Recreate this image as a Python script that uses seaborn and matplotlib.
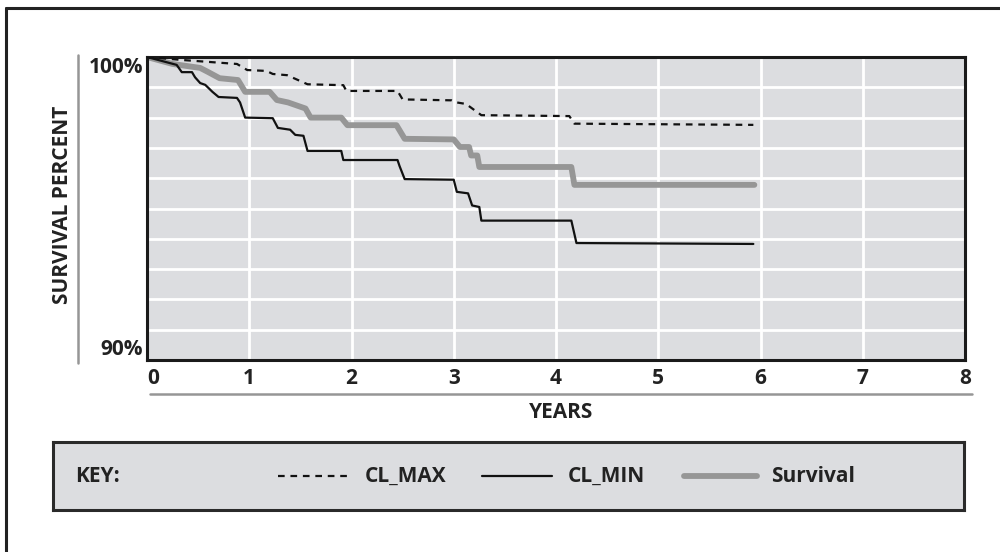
import numpy as np
import pandas as pd
import matplotlib
matplotlib.use('Agg')
import matplotlib.pyplot as plt
from matplotlib.lines import Line2D
import seaborn as sns

# survival curve (years, percent)
surv_years = [0, 0.25, 0.52, 0.60, 0.71, 0.89, 0.96, 1.20, 1.27, 1.38, 1.55, 1.60, 1.90, 1.96,
              2.44, 2.52, 3.00, 3.06, 3.15, 3.17, 3.23, 3.25, 4.15, 4.18, 5.94]
surv_pct = [100, 99.77, 99.64, 99.50, 99.30, 99.24, 98.85, 98.85, 98.58, 98.50, 98.30, 98.00, 98.00, 97.75,
            97.75, 97.30, 97.28, 97.03, 97.03, 96.75, 96.75, 96.37, 96.37, 95.78, 95.78]

# lower confidence limit
min_years = [0, 0.29, 0.34, 0.44, 0.47, 0.52, 0.57, 0.64, 0.70, 0.88, 0.91, 0.96, 1.23, 1.28, 1.40,
             1.45, 1.53, 1.57, 1.90, 1.92, 2.45, 2.47, 2.52, 3.00, 3.03, 3.14, 3.18, 3.25, 3.27,
             4.15, 4.20, 5.93]
min_pct = [100, 99.74, 99.50, 99.50, 99.33, 99.14, 99.08, 98.85, 98.68, 98.65, 98.50, 98.00, 97.98, 97.66, 97.60,
           97.43, 97.40, 96.90, 96.90, 96.60, 96.60, 96.40, 95.97, 95.95, 95.55, 95.50, 95.10, 95.05, 94.60,
           94.60, 93.86, 93.83]

# upper confidence limit
max_years = [0, 0.35, 0.88, 0.98, 1.17, 1.23, 1.37, 1.57, 1.92, 1.95, 2.45, 2.50, 2.98, 3.03,
             3.12, 3.27, 4.13, 4.18, 5.93]
max_pct = [100, 99.90, 99.77, 99.57, 99.54, 99.44, 99.40, 99.10, 99.07, 98.88, 98.88, 98.60, 98.57, 98.50,
           98.45, 98.08, 98.05, 97.80, 97.76]

x_ticks = [0, 1, 2, 3, 4, 5, 6, 7, 8]
y_ticks = [90, 91, 92, 93, 94, 95, 96, 97, 98, 99, 100]
y_labels = ['90%', '', '', '', '', '', '', '', '', '', '100%']
key_labels = ['CL_MAX', 'CL_MIN', 'Survival']

W, H = 1000, 552
BG = '#dcdde0'
DARK = '#222222'
GRAY = '#969696'

sns.set_theme(style='white')
plt.rcParams['font.family'] = ['Open Sans', 'DejaVu Sans']
plt.rcParams['font.weight'] = 'bold'

fig = plt.figure(figsize=(10, 5.52), dpi=100)

def fx(px):
    return px / W

def fy(py):
    return 1 - py / H

# outer frame (top and left edges only visible)
fig.add_artist(Line2D([fx(6), 1.0], [fy(8), fy(8)], transform=fig.transFigure, color=DARK, lw=2.2))
fig.add_artist(Line2D([fx(6), fx(6)], [fy(8), 0.0], transform=fig.transFigure, color=DARK, lw=2.2))

# main plot
ax = fig.add_axes([fx(147), fy(360), fx(965) - fx(147), fy(57) - fy(360)])
ax.set_facecolor(BG)

sns.lineplot(x=max_years, y=max_pct, ax=ax, sort=False, estimator=None, color='#111111',
             lw=1.6, dashes=False, linestyle=(0, (3, 2.6)), zorder=3)
sns.lineplot(x=min_years, y=min_pct, ax=ax, sort=False, estimator=None, color='#111111',
             lw=1.6, zorder=3)
sns.lineplot(x=surv_years, y=surv_pct, ax=ax, sort=False, estimator=None, color=GRAY,
             lw=4.2, zorder=2)

ax.set_xlim(0, 8)
ax.set_ylim(90, 100)
ax.set_xticks(x_ticks)
ax.set_xticklabels([str(t) for t in x_ticks], fontsize=15, fontweight='bold', color=DARK)
ax.set_yticks(y_ticks)
ax.set_yticklabels(y_labels, fontsize=15, fontweight='bold', color=DARK)
ax.tick_params(axis='both', length=0)
ax.tick_params(axis='x', pad=6)
ax.tick_params(axis='y', pad=3)
ax.xaxis.get_ticklabels()[0].set_horizontalalignment('left')
ax.yaxis.get_ticklabels()[0].set_verticalalignment('bottom')
ax.yaxis.get_ticklabels()[-1].set_verticalalignment('top')
ax.grid(True, color='white', lw=2.0)
ax.set_axisbelow(True)
for side in ['left', 'right', 'top', 'bottom']:
    ax.spines[side].set_visible(True)
    ax.spines[side].set_color('#1a1a1a')
    ax.spines[side].set_linewidth(2.2)
ax.set_xlabel('')
ax.set_ylabel('')

# axis titles and the thin gray rules beside them
fig.text(fx(62), fy(205), 'SURVIVAL PERCENT', rotation=90, ha='center', va='center',
         fontsize=15, fontweight='bold', color=DARK)
fig.add_artist(Line2D([fx(78), fx(78)], [fy(55), fy(363)], transform=fig.transFigure, color=GRAY, lw=1.8))
fig.add_artist(Line2D([fx(150), fx(972)], [fy(394), fy(394)], transform=fig.transFigure, color=GRAY, lw=1.8))
fig.text(fx(561), fy(412), 'YEARS', ha='center', va='center', fontsize=15, fontweight='bold', color=DARK)

# key box
kx0, kx1, ky0, ky1 = 53, 964, 442, 510
kax = fig.add_axes([fx(kx0), fy(ky1), fx(kx1) - fx(kx0), fy(ky0) - fy(ky1)])
kax.set_facecolor(BG)
kax.set_xlim(kx0, kx1)
kax.set_ylim(0, 1)
kax.set_xticks([])
kax.set_yticks([])
for side in ['left', 'right', 'top', 'bottom']:
    kax.spines[side].set_visible(True)
    kax.spines[side].set_color('#2a2a2a')
    kax.spines[side].set_linewidth(2.2)
yk = 0.5
kax.text(75, yk, 'KEY:', ha='left', va='center', fontsize=15, fontweight='bold', color=DARK)
kax.plot([278, 347], [yk, yk], color='#111111', lw=1.6, linestyle=(0, (3, 2.6)))
kax.text(365, yk, key_labels[0], ha='left', va='center', fontsize=15, fontweight='bold', color=DARK)
kax.plot([482, 552], [yk, yk], color='#111111', lw=1.6)
kax.text(568, yk, key_labels[1], ha='left', va='center', fontsize=15, fontweight='bold', color=DARK)
kax.plot([684, 757], [yk, yk], color=GRAY, lw=4.2)
kax.text(771, yk, key_labels[2], ha='left', va='center', fontsize=15, fontweight='bold', color=DARK)

fig.savefig('out.png', dpi=100, facecolor='white')
